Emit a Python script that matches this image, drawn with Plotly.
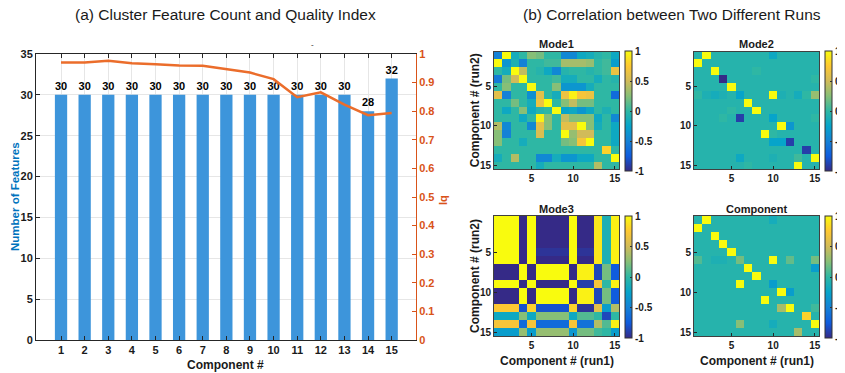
import plotly.graph_objects as go

W, H = 845, 373          # size of the browser window
OFF = 8                  # default page margin around the plot div
FW, FH = W - OFF, H - OFF
FONT = "Liberation Sans, Arial, sans-serif"

# ---------------- data ----------------
components = [1, 2, 3, 4, 5, 6, 7, 8, 9, 10, 11, 12, 13, 14, 15]
feature_count = [30, 30, 30, 30, 30, 30, 30, 30, 30, 30, 30, 30, 30, 28, 32]
iq = [0.970, 0.970, 0.976, 0.968, 0.964, 0.960, 0.959, 0.948, 0.935, 0.912,
      0.849, 0.866, 0.823, 0.786, 0.794]
left_ticks = [0, 5, 10, 15, 20, 25, 30, 35]
right_ticks = [0, 0.1, 0.2, 0.3, 0.4, 0.5, 0.6, 0.7, 0.8, 0.9, 1]
heat_ticks = [5, 10, 15]
cbar_vals = [-1, -0.5, 0, 0.5, 1]
cbar_text = ["-1", "-0.5", "0", "0.5", "1"]

mode1 = [
    [-0.5, 1, -0.15, 0.0, 0.25, 0.2, 0.0, 0.0, -0.45, -0.45, -0.2, -0.15, -0.05, 0.0, -0.2],
    [1, -0.35, -0.1, -0.5, 0.0, 0.0, 0.05, 0.05, 0.35, 0.35, 0.35, 0.3, 0.0, 0.05, -0.3],
    [0.0, -0.15, 1, 0.45, 0.0, -0.05, -0.2, -0.45, -0.05, 0.0, 0.0, -0.05, 0.0, 0.05, 0.65],
    [-0.55, 0.2, 0.5, 1, 0.0, 0.0, 0.0, 0.05, -0.15, -0.15, 0.0, 0.0, -0.15, 0.0, -0.05],
    [0.0, 0.25, 0.0, 0.0, 1, 0.0, 0.0, 0.25, -0.35, -0.35, -0.35, -0.15, 0.0, 0.0, 0.0],
    [0.6, -0.5, 0.0, 0.0, -0.4, 0.6, 0.0, -0.15, 0.65, 0.95, 0.7, 0.65, 0.0, 0.0, -0.65],
    [0.0, 0.0, 0.2, 0.0, -0.15, 0.65, 1, 0.0, 0.25, 0.45, 0.2, 0.2, 0.0, 0.0, 0.0],
    [0.0, -0.2, 0.0, 0.25, -0.2, -0.05, 0.0, 1, -0.25, -0.2, -0.35, -0.2, 0.0, -0.1, 0.0],
    [0.0, 0.0, 0.0, -0.2, 0.0, 0.95, 0.25, 0.0, 0.45, 0.25, 0.25, 0.25, -0.2, 0.0, -0.45],
    [0.4, -0.45, 0.0, 0.0, -0.45, 0.6, 0.25, 0.0, 0.6, 0.6, 1, 0.25, -0.15, 0.0, -0.2],
    [0.25, -0.5, 0.0, 0.0, 0.0, 0.55, 0.0, 0.0, 1, 0.3, 0.5, 0.5, 0.0, 0.0, -0.2],
    [0.25, 0.0, 0.0, -0.15, 0.0, 0.0, 0.0, 0.0, 0.2, 0.25, 0.7, 1, 0.0, 0.0, -0.2],
    [0.0, 0.0, 0.0, 0.0, 0.0, 0.0, 0.0, 0.0, 0.0, 0.0, 0.0, 0.0, 0.0, 0.8, 0.0],
    [-0.15, 0.0, 0.4, 0.0, 0.0, -0.45, -0.45, -0.15, -0.35, -0.35, -0.2, -0.2, 0.0, 0.0, 1],
    [0.0, 0.0, 0.0, 0.0, 0.0, -0.15, 0.0, 0.0, 0.0, 0.0, 0.0, 0.0, 0.4, 0.0, 0.0],
]

mode2 = [
    [-0.05, 1, -0.05, -0.05, -0.05, -0.05, -0.05, -0.05, -0.05, -0.2, -0.05, -0.05, -0.05, -0.05, -0.05],
    [1, -0.05, -0.05, -0.05, -0.05, -0.05, -0.05, -0.05, -0.05, -0.05, -0.05, -0.05, -0.05, -0.05, -0.05],
    [-0.05, -0.05, 1, -0.05, -0.05, -0.05, -0.05, 0.0, -0.05, -0.05, -0.05, -0.05, -0.05, -0.05, -0.05],
    [-0.05, -0.05, -0.05, -1, -0.05, -0.05, -0.05, -0.05, -0.05, -0.05, -0.05, -0.05, -0.05, -0.05, 0.0],
    [-0.05, -0.05, -0.05, -0.05, 1, -0.05, -0.05, -0.05, -0.05, -0.05, -0.05, -0.05, -0.05, -0.05, -0.05],
    [0.0, -0.1, -0.15, -0.1, -0.05, -0.25, -0.05, -0.05, -0.05, 1, -0.1, -0.05, -0.15, 0.0, 0.3],
    [-0.05, -0.05, -0.05, -0.05, -0.05, -0.05, 1, -0.05, -0.05, -0.05, -0.05, -0.05, -0.05, -0.05, -0.05],
    [-0.05, -0.05, -0.05, -0.05, 0.0, -0.05, -0.05, 1, -0.05, -0.05, -0.05, -0.05, -0.05, -0.05, -0.05],
    [-0.05, -0.05, -0.05, 0.0, -0.05, -0.9, -0.05, -0.05, -0.05, -0.25, -0.05, -0.05, -0.05, -0.05, 0.0],
    [-0.05, -0.05, -0.05, -0.05, -0.05, -0.05, -0.05, -0.05, -0.05, -0.05, 1, -0.35, -0.05, -0.05, -0.05],
    [-0.05, -0.05, -0.05, -0.05, -0.05, -0.05, -0.05, -0.05, 1, 0.0, -0.05, -0.05, -0.05, -0.05, -0.05],
    [-0.05, -0.05, -0.05, -0.05, -0.05, -0.05, -0.05, -0.05, -0.05, -0.25, -0.25, -0.9, -0.05, -0.05, -0.05],
    [-0.05, -0.05, -0.05, -0.05, -0.05, -0.05, -0.05, -0.05, -0.05, -0.05, -0.05, -0.05, -0.05, -0.9, -0.05],
    [-0.05, -0.05, -0.05, -0.05, -0.05, -0.2, -0.05, -0.05, -0.05, -0.1, -0.05, -0.05, 0.05, -0.05, 1],
    [-0.05, -0.05, -0.05, -0.05, -0.05, -0.05, 0.0, -0.05, -0.05, -0.05, -0.05, -0.05, 1, -0.05, -0.05],
]

mode3 = [
    [1, 1, 1, -1, 1, -1, -1, -1, -1, 1, -1, -1, 0.9, -0.1, 0.95],
    [1, 1, 1, -1, 1, -1, -1, -1, -1, 1, -1, -1, 0.9, -0.1, 0.95],
    [1, 1, 1, -1, 1, -1, -1, -1, -1, 1, -1, -1, 0.9, -0.1, 0.95],
    [1, 1, 1, -1, 1, -1, -1, -1, -1, 1, -1, -1, 0.9, -0.1, 0.95],
    [1, 1, 1, -1, 1, -0.95, -0.95, -0.95, -0.95, 1, -0.95, -0.95, 0.9, -0.1, 0.95],
    [1, 1, 1, -1, 1, -1, -1, -1, -1, 1, -1, -1, 0.9, -0.1, 0.95],
    [-1, -1, -1, 1, -1, 1, 1, 1, 1, -1, 0.95, 0.95, -0.85, 0.2, -0.75],
    [-1, -1, -1, 1, -1, 1, 1, 1, 1, -1, 0.95, 0.95, -0.85, 0.2, -0.75],
    [1, 1, 1, -1, 1, -1, -1, -1, -1, 1, -0.9, -0.9, 0.7, 0.0, 0.95],
    [-1, -1, -1, 1, -1, 1, 1, 1, 1, -1, 0.95, 0.95, -0.85, 0.2, -0.75],
    [-1, -1, -1, 1, -1, 1, 1, 1, 1, -1, 0.95, 0.95, -0.85, 0.2, -0.75],
    [0.75, 0.75, 0.75, -0.8, 0.8, -0.8, -0.8, -0.8, -0.8, 0.8, -0.95, -0.95, 0.6, -0.3, 0.4],
    [-0.2, -0.2, -0.2, 0.25, -0.2, 0.25, 0.25, 0.25, 0.25, -0.2, 0.1, 0.1, 0.0, -0.85, 0.0],
    [0.7, 0.7, 0.7, -0.65, 0.7, -0.65, -0.65, -0.65, -0.65, 0.7, -0.6, -0.6, 0.4, 0.1, 0.95],
    [-0.3, -0.3, -0.3, 0.3, -0.3, 0.3, 0.3, 0.3, 0.3, -0.35, 0.2, 0.2, 0.05, 0.0, -0.3],
]

component = [
    [-0.05, 1, -0.05, -0.05, -0.05, -0.05, -0.05, -0.05, -0.05, -0.15, -0.05, -0.05, -0.05, -0.05, -0.05],
    [1, -0.05, -0.05, -0.05, -0.05, -0.05, -0.05, -0.05, -0.05, -0.05, -0.05, -0.05, -0.05, -0.05, -0.05],
    [-0.05, -0.05, 1, -0.05, -0.05, -0.05, -0.05, -0.05, -0.05, -0.05, -0.05, -0.05, -0.05, -0.05, -0.05],
    [-0.05, -0.05, -0.05, 1, -0.05, -0.05, -0.05, -0.05, -0.05, -0.05, -0.05, -0.05, -0.05, -0.05, -0.05],
    [-0.05, -0.05, -0.05, -0.05, 1, -0.05, -0.05, -0.05, -0.05, -0.05, -0.05, -0.05, -0.05, -0.05, -0.05],
    [0.1, -0.05, -0.1, -0.1, -0.05, 0.2, -0.05, -0.05, -0.05, 1, -0.05, 0.15, -0.05, -0.05, 0.2],
    [-0.05, -0.05, -0.05, -0.05, -0.05, -0.05, 1, -0.05, -0.05, -0.05, -0.05, -0.05, -0.05, -0.05, -0.3],
    [-0.05, -0.05, -0.05, -0.05, -0.05, -0.05, -0.05, 1, -0.05, -0.05, -0.05, -0.05, -0.05, -0.05, -0.05],
    [-0.05, -0.05, -0.05, -0.05, -0.05, 1, -0.05, -0.05, -0.05, -0.3, -0.05, -0.05, -0.05, -0.05, -0.05],
    [-0.05, -0.05, -0.05, -0.05, -0.05, -0.05, -0.05, -0.05, -0.05, -0.05, 1, -0.3, -0.05, -0.05, -0.05],
    [-0.05, -0.05, -0.05, -0.05, -0.05, -0.05, -0.05, -0.05, 1, -0.05, -0.05, -0.05, -0.05, -0.05, -0.05],
    [-0.05, -0.05, -0.05, -0.05, -0.05, -0.05, -0.05, -0.05, -0.05, -0.05, 0.35, 1, -0.05, -0.05, 0.05],
    [-0.05, -0.05, -0.05, -0.05, -0.05, -0.05, -0.05, -0.05, -0.05, -0.05, -0.05, -0.05, -0.05, 0.8, -0.05],
    [-0.05, -0.05, -0.05, -0.05, -0.05, 0.25, -0.05, -0.05, -0.05, -0.15, -0.05, -0.05, -0.05, -0.05, 1],
    [-0.05, -0.05, -0.05, -0.05, -0.05, -0.05, -0.05, -0.05, -0.05, -0.05, -0.05, -0.05, 0.35, -0.05, -0.05],
]

PARULA = [
    [0.000, "#352a87"], [0.125, "#0f5cdd"], [0.250, "#1481d6"], [0.375, "#06a4ca"],
    [0.500, "#2eb7a4"], [0.625, "#87bf77"], [0.750, "#d1bb59"], [0.875, "#fec832"],
    [1.000, "#f9fb0e"],
]


def px(x):
    """window pixel x -> paper fraction"""
    return (x - OFF) / FW


def py(y):
    """window pixel y -> paper fraction"""
    return 1 - (y - OFF) / FH


def label(text, x, y, size=12, color="#1a1a1a", bold=True, angle=0):
    return dict(text=text, x=px(x), y=py(y), xref="paper", yref="paper",
                xanchor="center", yanchor="middle", showarrow=False, textangle=angle,
                font=dict(size=size, color=color, family=FONT,
                          weight="bold" if bold else "normal"))


fig = go.Figure()

# ---------------- (a) bar + line ----------------
fig.add_trace(go.Bar(
    x=components, y=feature_count, width=0.52, marker_color="#3d95db",
    marker_line_width=0,
    text=[str(v) for v in feature_count], textposition="outside",
    textfont=dict(size=11, color="black", family=FONT, weight="bold"),
    cliponaxis=False, xaxis="x", yaxis="y", showlegend=False,
))
fig.add_trace(go.Scatter(
    x=components, y=iq, mode="lines", line=dict(color="#eb6d2b", width=2.5),
    xaxis="x", yaxis="y2", showlegend=False,
))

axis_font = dict(size=11, color="#1a1a1a", family=FONT, weight="bold")

fig.update_layout(
    xaxis=dict(domain=[px(36), px(416)], range=[-0.06, 16.03], tickvals=components,
               ticks="inside", ticklen=4, tickcolor="#262626", showline=True,
               linecolor="#262626", mirror="ticks", showgrid=True, gridcolor="#e6e6e6",
               zeroline=False, tickfont=axis_font, anchor="y"),
    yaxis=dict(domain=[py(340), py(54)], range=[0, 35], tickvals=left_ticks,
               ticks="inside", ticklen=4, tickcolor="#262626", showline=True,
               linecolor="#262626", showgrid=True, gridcolor="#e6e6e6",
               zeroline=False, tickfont=axis_font, anchor="x"),
    yaxis2=dict(overlaying="y", side="right", range=[0, 1], tickvals=right_ticks,
                ticks="inside", ticklen=4, tickcolor="#d95319", showline=True,
                linecolor="#d95319", showgrid=False, zeroline=False,
                tickfont=dict(size=11, color="#d95319", family=FONT, weight="bold"),
                anchor="x"),
)

# ---------------- (b) heatmaps ----------------
panels = [
    ("Mode1", mode1, 494, 619, 51.5, 169, False, True),
    ("Mode2", mode2, 694, 819, 51.5, 169, False, False),
    ("Mode3", mode3, 494, 619, 216, 336, True, True),
    ("Component", component, 694, 819, 216, 336, True, False),
]

annotations = []
for i, (name, z, x0, x1, y0, y1, bottom, left) in enumerate(panels):
    ax = i + 3
    fig.add_trace(go.Heatmap(
        z=z, x=components, y=components, colorscale=PARULA, zmin=-1, zmax=1,
        xaxis=f"x{ax}", yaxis=f"y{ax}",
        colorbar=dict(
            x=px(x1 + 6), xanchor="left", y=py((y0 + y1) / 2 + 1), yanchor="middle",
            len=y1 - y0 + 2, lenmode="pixels", thickness=7, thicknessmode="pixels",
            outlinewidth=1, outlinecolor="#333333", tickvals=cbar_vals,
            ticktext=cbar_text, ticks="inside", ticklen=2, tickcolor="#333333",
            tickfont=dict(size=10, color="#1a1a1a", family=FONT, weight="bold"),
            xpad=0, ypad=0,
        ),
    ))
    common = dict(ticks="inside", ticklen=3, tickcolor="#262626", showline=True,
                  linecolor="#404040", mirror=True, showgrid=False, zeroline=False,
                  tickvals=heat_ticks,
                  tickfont=dict(size=10, color="#1a1a1a", family=FONT, weight="bold"))
    fig.update_layout(**{
        f"xaxis{ax}": dict(domain=[px(x0), px(x1)], range=[0.5, 15.5], anchor=f"y{ax}", **common),
        f"yaxis{ax}": dict(domain=[py(y1), py(y0)], range=[15.5, 0.5], anchor=f"x{ax}", **common),
    })
    annotations.append(label(name, (x0 + x1) / 2, y0 - 7, size=11))
    if left:
        annotations.append(label("Component # (run2)", 475, (y0 + y1) / 2, angle=-90))
    if bottom:
        annotations.append(label("Component # (run1)", (x0 + x1) / 2, 361))

annotations += [
    label("(a) Cluster Feature Count and Quality Index", 226, 14, size=15.5, bold=False),
    label("(b) Correlation between Two Different Runs", 672, 14, size=15.5, bold=False),
    label("Number of Features", 15, 197, size=11.5, color="#0072bd", angle=-90),
    label("Iq", 443, 200, size=11, color="#d95319", angle=-90),
    label("Component #", 226, 365),
    label("-", 312, 44, size=8, bold=False),
]

fig.update_layout(
    width=FW, height=FH, margin=dict(l=0, r=0, t=0, b=0, autoexpand=False),
    paper_bgcolor="white", plot_bgcolor="white",
    annotations=annotations, bargap=0.4,
    font=dict(family=FONT),
)

fig.write_html("out.html")
